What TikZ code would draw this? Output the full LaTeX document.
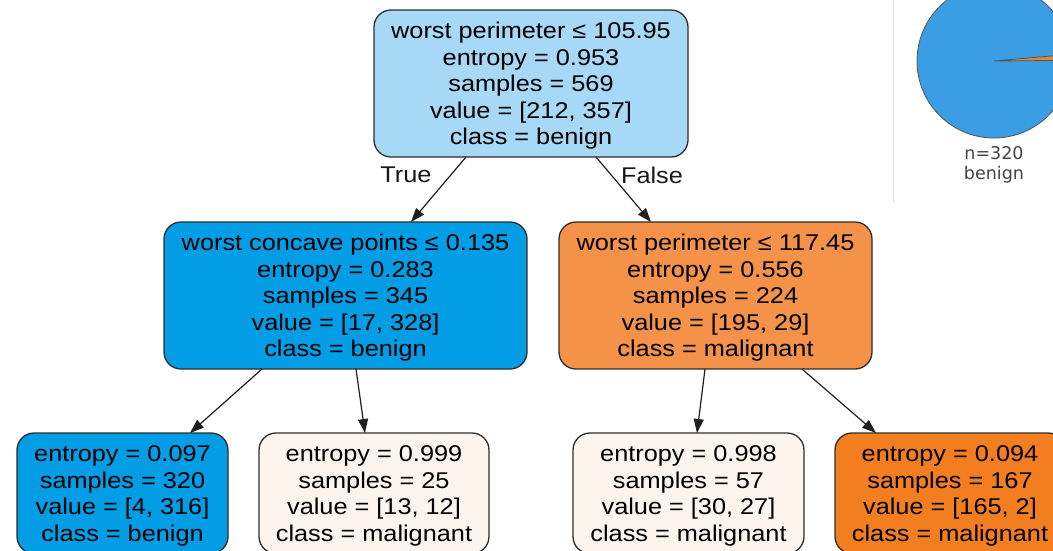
\documentclass[tikz,border=0pt]{standalone}
\usepackage{fontspec}
\usepackage{graphicx}
\setmainfont{Liberation Sans}
\newfontfamily\piefont{DejaVu Sans}
\usetikzlibrary{arrows.meta,calc}

% fills of the tree nodes and the pie
\definecolor{rootfill}{HTML}{A7D8F5}
\definecolor{benignfill}{HTML}{039DE5}
\definecolor{splitorange}{HTML}{F39248}
\definecolor{leafpale}{HTML}{FEF4EE}
\definecolor{leaforange}{HTML}{F27E20}
\definecolor{boxline}{HTML}{2E2E2E}
\definecolor{pieblue}{HTML}{3B9DE4}
\definecolor{pieorange}{HTML}{E8852F}
\definecolor{pieedge}{HTML}{555555}
\definecolor{pietext}{HTML}{444444}
\definecolor{rulegray}{HTML}{E6E6E6}

% multi-line node text, slightly condensed vertically; the tall rule in the
% first row pads the top so the lines sit a little below the box centre
\newcommand\treetext[1]{\scalebox{1}[0.9]{\fontsize{25.3}{29.4}\selectfont\begin{tabular}{@{}c@{}}\rule{0pt}{27.3pt}#1\end{tabular}}}
\newcommand\edgetext[1]{\scalebox{1}[0.9]{\fontsize{25.3}{29.4}\selectfont #1}}

\tikzset{
  treebox/.style={draw=boxline, line width=1.3pt, rounded corners=17pt,
    inner sep=0pt, outer sep=0pt, text=black},
  splitbox/.style={treebox, minimum height=147pt},
  leafbox/.style={treebox, minimum height=120.5pt},
  branch/.style={draw=black!88, line width=1.2pt,
    -{Triangle[length=14pt,width=10pt]}},
  branchlabel/.style={inner sep=0pt, text=black!90},
  pielabel/.style={inner sep=0pt, text=pietext, align=center,
    font=\piefont\fontsize{17.5}{20}\selectfont},
}

\begin{document}
\begin{tikzpicture}[x=1pt, y=-1pt]
\useasboundingbox (0,0) rectangle (1053,550);
\clip (0,0) rectangle (1053,550);
\fill[white] (0,0) rectangle (1053,550);

% ---- decision tree ----
\node[splitbox, fill=rootfill, minimum width=314pt] (root) at (531,83.5)
  {\treetext{worst perimeter ≤ 105.95\\ entropy = 0.953\\ samples = 569\\ value = [212, 357]\\ class = benign}};

\node[splitbox, fill=benignfill, minimum width=363pt] (lsplit) at (345.5,295.5)
  {\treetext{worst concave points ≤ 0.135\\ entropy = 0.283\\ samples = 345\\ value = [17, 328]\\ class = benign}};

\node[splitbox, fill=splitorange, minimum width=313pt] (rsplit) at (715.5,295.5)
  {\treetext{worst perimeter ≤ 117.45\\ entropy = 0.556\\ samples = 224\\ value = [195, 29]\\ class = malignant}};

\node[leafbox, fill=benignfill, minimum width=211pt] (leafa) at (122.5,493.25)
  {\treetext{entropy = 0.097\\ samples = 320\\ value = [4, 316]\\ class = benign}};

\node[leafbox, fill=leafpale, minimum width=230pt] (leafb) at (374,493.25)
  {\treetext{entropy = 0.999\\ samples = 25\\ value = [13, 12]\\ class = malignant}};

\node[leafbox, fill=leafpale, minimum width=231pt] (leafc) at (688.5,493.25)
  {\treetext{entropy = 0.998\\ samples = 57\\ value = [30, 27]\\ class = malignant}};

\node[leafbox, fill=leaforange, minimum width=230pt] (leafd) at (950,493.25)
  {\treetext{entropy = 0.094\\ samples = 167\\ value = [165, 2]\\ class = malignant}};

% branches
\draw[branch] ([xshift=92pt]root.south west) -- ([xshift=247pt]lsplit.north west);
\draw[branch] ([xshift=222pt]root.south west) -- ([xshift=92pt]rsplit.north west);
\draw[branch] ([xshift=98pt]lsplit.south west) -- ([xshift=173pt]leafa.north west);
\draw[branch] ([xshift=192pt]lsplit.south west) -- ([xshift=106pt]leafb.north west);
\draw[branch] ([xshift=146pt]rsplit.south west) -- ([xshift=124pt]leafc.north west);
\draw[branch] ([xshift=243pt]rsplit.south west) -- ([xshift=41pt]leafd.north west);

\node[branchlabel] (truelbl) at (406,175) {\edgetext{True}};
\node[branchlabel] (falselbl) at (652,175) {\edgetext{False}};

% ---- leaf pie chart ----
\draw[rulegray, line width=1pt] (893,0) -- (893,203);
\coordinate (pc) at (994,61);
\fill[pieblue] (pc) circle (77);
\fill[pieorange] (pc) -- ++(-0.5:77) arc[start angle=-0.5, end angle=-5, radius=77] -- cycle;
\draw[pieedge, line width=0.8pt] (pc) circle (77);
\draw[pieedge, line width=0.8pt] ($(pc)+(-0.5:77)$) -- (pc) -- ($(pc)+(-5:77)$);
\node[pielabel] (piecap) at (994,165) {n=320\\benign};
\end{tikzpicture}
\end{document}
